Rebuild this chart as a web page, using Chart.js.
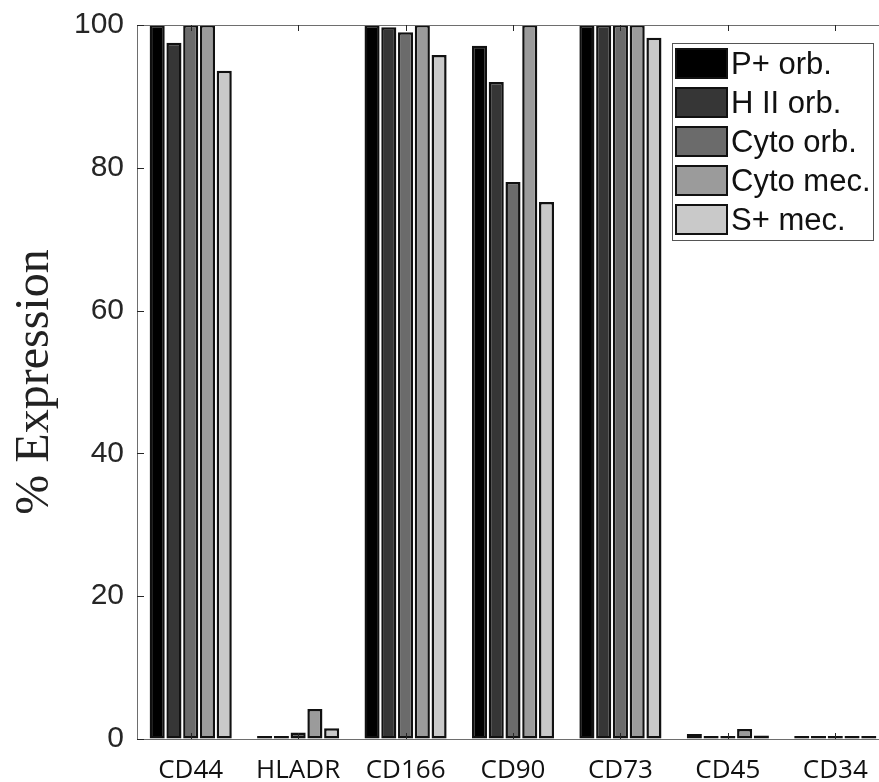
<!DOCTYPE html>
<html>
<head>
<meta charset="utf-8">
<script src="https://cdn.jsdelivr.net/npm/chart.js@4"></script>
<style>
  html, body { margin: 0; padding: 0; background: #fff; overflow: hidden; }
  #wrap { width: 895px; height: 782px; position: relative; }
</style>
</head>
<body>
<div id="wrap"><canvas id="chart"></canvas></div>
<script>
const markers = ["CD44", "HLADR", "CD166", "CD90", "CD73", "CD45", "CD34"];
const yTicks = [0, 20, 40, 60, 80, 100];

const pOrb    = [100,  0.2, 100,   97.1, 100, 0.7, 0.2];
const h2Orb   = [97.5, 0.3, 99.7,  92.0, 100, 0.2, 0.3];
const cytoOrb = [100,  0.9, 99.0,  78.0, 100, 0.1, 0.3];
const cytoMec = [100,  4.2, 100,   100,  100, 1.4, 0.2];
const sMec    = [93.6, 1.5, 95.8,  75.2, 98.2, 0.5, 0.3];

const seriesNames = ["P+ orb.", "H II orb.", "Cyto orb.", "Cyto mec.", "S+ mec."];
const seriesData = [pOrb, h2Orb, cytoOrb, cytoMec, sMec];
const fills = ["#000000", "#363636", "#6b6b6b", "#9b9b9b", "#c9c9c9"];

const axisColor = "#262626";

// MATLAB style box, inward ticks and an inset legend
const boxPlugin = {
  id: "matlabBox",
  afterDatasetsDraw(chart) {
    const { ctx, chartArea: a, scales } = chart;
    ctx.save();
    ctx.strokeStyle = "#6e6e6e";
    ctx.lineWidth = 1;
    ctx.strokeRect(a.left + 0.5, a.top + 0.5, a.right - a.left, a.bottom - a.top);

    ctx.strokeStyle = axisColor;
    yTicks.forEach(v => {
      const y = Math.round(scales.y.getPixelForValue(v)) + 0.5;
      ctx.beginPath();
      ctx.moveTo(a.left, y); ctx.lineTo(a.left + 7, y);
      ctx.moveTo(a.right, y); ctx.lineTo(a.right - 7, y);
      ctx.stroke();
    });
    markers.forEach((m, i) => {
      const x = Math.round(scales.x.getPixelForValue(i)) + 0.5;
      ctx.beginPath();
      ctx.moveTo(x, a.top); ctx.lineTo(x, a.top + 6);
      ctx.moveTo(x, a.bottom); ctx.lineTo(x, a.bottom - 6);
      ctx.stroke();
    });

    // legend
    const bx = a.right - 217, by = a.top + 18, bw = 201, bh = 197;
    ctx.fillStyle = "#fff";
    ctx.fillRect(bx, by, bw, bh);
    ctx.lineWidth = 1;
    ctx.strokeStyle = "#555";
    ctx.strokeRect(bx + 0.5, by + 0.5, bw, bh);
    ctx.font = "31px 'Liberation Sans', Arial, sans-serif";
    ctx.textBaseline = "middle";
    chart.data.datasets.forEach((ds, i) => {
      const sy = by + 5 + i * 39;
      ctx.fillStyle = ds.backgroundColor;
      ctx.fillRect(bx + 3, sy, 53, 31);
      ctx.strokeStyle = "#111";
      ctx.lineWidth = 2;
      ctx.strokeRect(bx + 4, sy + 1, 51, 29);
      ctx.fillStyle = "#111";
      ctx.fillText(ds.label, bx + 59, sy + 17);
    });
    ctx.restore();
  }
};

new Chart(document.getElementById("chart"), {
  type: "bar",
  data: {
    labels: markers,
    datasets: seriesNames.map((name, i) => ({
      label: name,
      data: seriesData[i],
      backgroundColor: fills[i],
      borderColor: "#111",
      borderWidth: 2.5,
      borderSkipped: false,
      minBarLength: 3,
      categoryPercentage: 0.78,
      barPercentage: 0.9
    }))
  },
  options: {
    responsive: true,
    maintainAspectRatio: false,
    animation: false,
    layout: { padding: { top: 25, right: 6, left: 0, bottom: 0 } },
    plugins: { legend: { display: false }, tooltip: { enabled: false } },
    scales: {
      x: {
        grid: { display: false, drawTicks: false },
        border: { display: false },
        ticks: { color: "#111", padding: 16, font: { family: "'Open Sans', sans-serif", size: 26 } },
        afterFit: s => { s.height = 43; }
      },
      y: {
        min: 0, max: 100,
        // invisible tick marks give the gap between the labels and the axis
        grid: { display: true, drawOnChartArea: false, drawTicks: true, tickLength: 13, tickColor: "rgba(0,0,0,0)" },
        border: { display: false },
        ticks: { stepSize: 20, color: axisColor, padding: 0, font: { family: "'Liberation Sans', Arial, sans-serif", size: 30 } },
        title: {
          display: true,
          text: "% Expression",
          color: "#222",
          padding: { top: 7, bottom: 0 },
          font: { family: "'Liberation Serif', 'Times New Roman', serif", size: 48, weight: "normal" }
        },
        afterFit: s => { s.width = 137; }
      }
    }
  },
  plugins: [boxPlugin]
});
</script>
</body>
</html>
